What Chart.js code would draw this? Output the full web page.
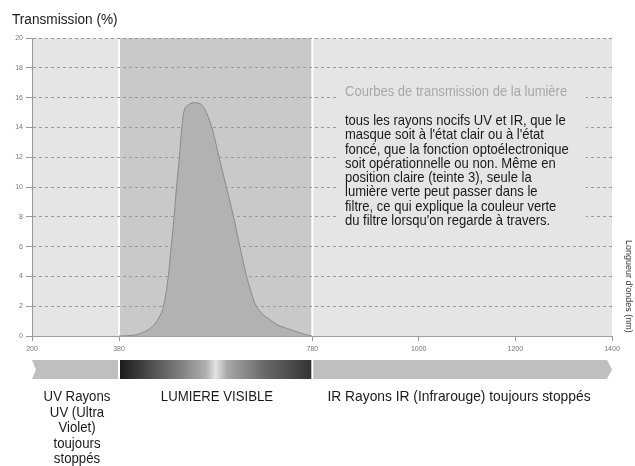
<!DOCTYPE html>
<html>
<head>
<meta charset="utf-8">
<script src="https://cdn.jsdelivr.net/npm/chart.js@4/dist/chart.umd.min.js"></script>
<style>
  body { margin: 0; background: #fff; }
  #wrap { position: relative; width: 635px; height: 466px; overflow: hidden;
          font-family: "Liberation Sans", Arial, sans-serif; }
  #wrap canvas { position: absolute; left: 0; top: 0; }
  .txt { position: absolute; white-space: nowrap; color: #1a1a1a; }
  .sq { transform: scaleX(0.88); transform-origin: left top; }
  .band { text-align: center; transform-origin: center top; transform: scaleX(0.88); }
</style>
</head>
<body>
<div id="wrap">
  <canvas id="chart" width="635" height="466"></canvas>

  <div class="txt sq" style="left:12px; top:11px; font-size:15.5px; line-height:16px;">Transmission (%)</div>

  <div class="txt sq" style="left:345px; top:83px; font-size:14.8px; line-height:16px; color:#a8a8a8;">Courbes de transmission de la lumière</div>

  <div class="txt sq" style="left:345px; top:113px; font-size:14.8px; line-height:14.3px;">
    tous les rayons nocifs UV et IR, que le<br>
    masque soit à l'état clair ou à l'état<br>
    foncé, que la fonction optoélectronique<br>
    soit opérationnelle ou non. Même en<br>
    position claire (teinte 3), seule la<br>
    lumière verte peut passer dans le<br>
    filtre, ce qui explique la couleur verte<br>
    du filtre lorsqu'on regarde à travers.
  </div>

  <div class="txt" style="left:629px; top:280px; width:90px; margin-left:-45px; text-align:center; font-size:9px; line-height:10px; color:#333; transform:rotate(90deg); transform-origin:center center;">Longueur d'ondes (nm)</div>

  <div class="txt band" style="left:17px; top:388px; width:120px; font-size:15px; line-height:15.6px;">UV Rayons<br>UV (Ultra<br>Violet)<br>toujours<br>stoppés</div>
  <div class="txt band" style="left:137px; top:388px; width:160px; font-size:15px; line-height:15.6px;">LUMIERE VISIBLE</div>
  <div class="txt band" style="left:309px; top:388px; width:300px; font-size:15px; line-height:15.6px; transform:scaleX(0.92);">IR Rayons IR (Infrarouge) toujours stoppés</div>
</div>

<script>
/************ DATA ************/
const xTicks = [200, 380, 780, 1000, 1200, 1400];
const yMin = 0;
const yMax = 20;
const yStep = 2;

// spectral zones (nm)
const zoneNames = ["UV", "VISIBLE", "IR"];
const zoneStart = [200, 380, 780];
const zoneEnd = [380, 780, 1400];

// transmission curve
const wavelength = [380, 410, 430, 448, 462, 472, 482, 488, 494, 499, 505, 510, 514, 523, 537, 554, 572, 587, 602, 617, 630, 644, 651, 661, 676, 692, 705, 737, 760, 779];
const transmission = [0, 0.05, 0.25, 0.6, 1.2, 2, 4, 6, 8, 10, 12, 14, 15, 15.5, 15.65, 15.4, 14, 12, 10, 8, 6, 4, 3.2, 2.2, 1.5, 1.1, 0.8, 0.4, 0.15, 0];

/************ COLOURS ************/
const LIGHT_BG = "#e5e5e6";
const DARK_BG = "#c9c9c9";
const CURVE_FILL = "#b2b2b2";
const CURVE_LINE = "#8a8a8a";
const BAND_GREY = "#bfbfbf";

/************ BACKGROUND ZONES ************/
const zonesBg = {
  id: "zonesBg",
  beforeDraw(chart) {
    const { ctx, chartArea: a, scales: { x } } = chart;
    ctx.save();
    zoneNames.forEach((name, i) => {
      const x1 = x.getPixelForValue(zoneStart[i]);
      const x2 = x.getPixelForValue(zoneEnd[i]);
      ctx.fillStyle = name === "VISIBLE" ? DARK_BG : LIGHT_BG;
      ctx.fillRect(x1, a.top, x2 - x1, a.bottom - a.top);
    });
    // white separators
    ctx.fillStyle = "#fff";
    [380, 780].forEach(v => {
      const px = x.getPixelForValue(v);
      ctx.fillRect(px - 1, a.top, 2, a.bottom - a.top);
    });
    ctx.restore();
  },
  // plain panel behind the note so the grid does not run through the text
  beforeDatasetsDraw(chart) {
    const { ctx } = chart;
    ctx.save();
    ctx.fillStyle = LIGHT_BG;
    ctx.fillRect(336, 76, 250, 162);
    ctx.restore();
  }
};

/************ SPECTRUM BAND ************/
const spectrumBand = {
  id: "spectrumBand",
  afterDraw(chart) {
    const { ctx, chartArea: a, scales: { x } } = chart;
    const top = a.bottom + 24;
    const bot = a.bottom + 43;
    const mid = (top + bot) / 2;
    ctx.save();

    // UV : notched tail
    let x1 = x.getPixelForValue(zoneStart[0]);
    let x2 = x.getPixelForValue(zoneEnd[0]) - 1;
    ctx.fillStyle = BAND_GREY;
    ctx.beginPath();
    ctx.moveTo(x1, top);
    ctx.lineTo(x2, top);
    ctx.lineTo(x2, bot);
    ctx.lineTo(x1, bot);
    ctx.lineTo(x1 + 4, mid);
    ctx.closePath();
    ctx.fill();

    // visible : grey scale gradient
    x1 = x.getPixelForValue(zoneStart[1]) + 1;
    x2 = x.getPixelForValue(zoneEnd[1]) - 1;
    const g = ctx.createLinearGradient(x1, 0, x2, 0);
    g.addColorStop(0, "#1c1c1c");
    g.addColorStop(0.1, "#3a3a3a");
    g.addColorStop(0.3, "#7a7a7a");
    g.addColorStop(0.45, "#b0b0b0");
    g.addColorStop(0.5, "#e2e2e2");
    g.addColorStop(0.56, "#a8a8a8");
    g.addColorStop(0.75, "#6a6a6a");
    g.addColorStop(1, "#333");
    ctx.fillStyle = g;
    ctx.fillRect(x1, top, x2 - x1, bot - top);

    // IR : arrow head
    x1 = x.getPixelForValue(zoneStart[2]) + 1;
    x2 = x.getPixelForValue(zoneEnd[2]);
    ctx.fillStyle = BAND_GREY;
    ctx.beginPath();
    ctx.moveTo(x1, top);
    ctx.lineTo(x2 - 5, top);
    ctx.lineTo(x2, mid);
    ctx.lineTo(x2 - 5, bot);
    ctx.lineTo(x1, bot);
    ctx.closePath();
    ctx.fill();

    ctx.restore();
  }
};

/************ CHART ************/
const tickFont = { family: "'Liberation Sans', Arial, sans-serif", size: 7 };

new Chart(document.getElementById("chart"), {
  type: "line",
  data: {
    datasets: [{
      data: wavelength.map((w, i) => ({ x: w, y: transmission[i] })),
      borderColor: CURVE_LINE,
      borderWidth: 1,
      backgroundColor: CURVE_FILL,
      fill: "origin",
      pointRadius: 0,
      cubicInterpolationMode: "monotone"
    }]
  },
  options: {
    responsive: false,
    animation: false,
    devicePixelRatio: 1,
    layout: { padding: { left: 0, right: 23, top: 38, bottom: 110 } },
    plugins: { legend: { display: false }, tooltip: { enabled: false } },
    scales: {
      x: {
        type: "linear",
        min: xTicks[0],
        max: xTicks[xTicks.length - 1],
        afterBuildTicks: s => { s.ticks = xTicks.map(v => ({ value: v })); },
        afterFit: s => { s.height = 20; },
        grid: { drawOnChartArea: false, drawTicks: true, tickLength: 5, tickColor: "#999" },
        border: { display: true, color: "#a0a0a0", width: 1 },
        ticks: { font: tickFont, color: "#777", padding: 4, maxRotation: 0, autoSkip: false,
                 callback: v => String(v) }
      },
      y: {
        min: yMin,
        max: yMax,
        afterFit: s => { s.width = 32; },
        grid: { color: "#9a9a9a", lineWidth: 1, tickLength: 6, tickColor: "#999" },
        border: { display: true, color: "#9a9a9a", width: 1, dash: [3, 3] },
        ticks: { stepSize: yStep, font: tickFont, color: "#777", padding: 3 }
      }
    }
  },
  plugins: [zonesBg, spectrumBand]
});
</script>
</body>
</html>
